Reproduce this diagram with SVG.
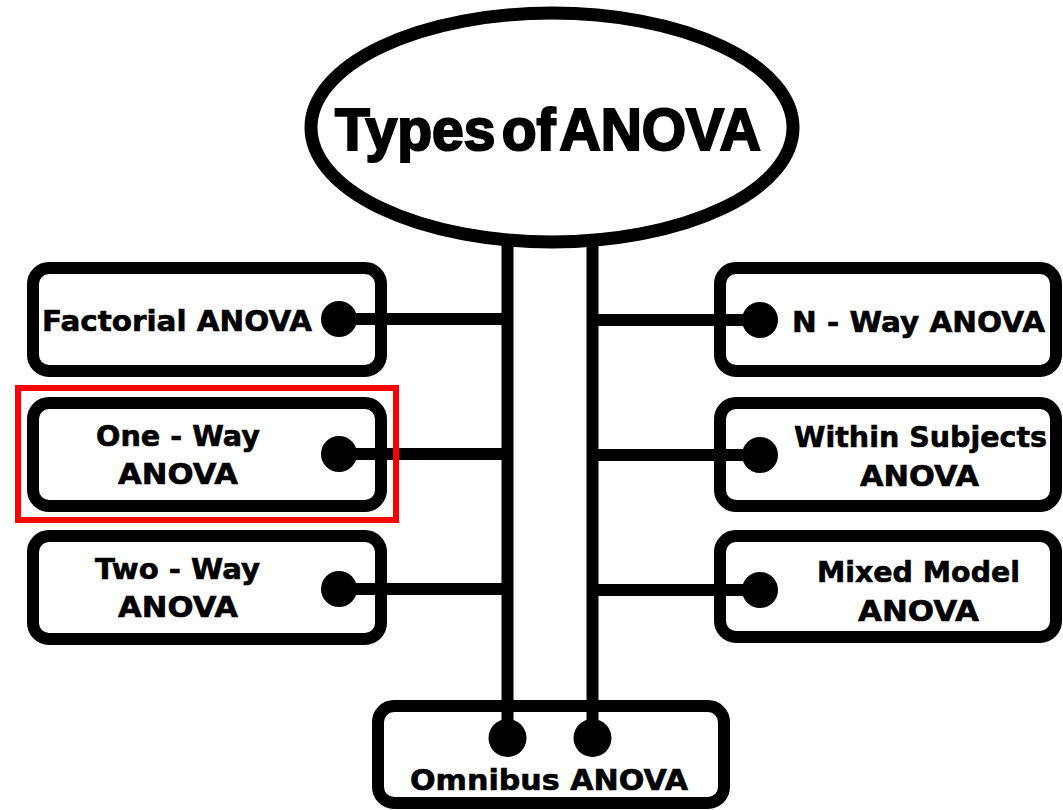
<svg xmlns="http://www.w3.org/2000/svg" width="1063" height="810" viewBox="0 0 1063 810">
  <style>
    .box { fill: #ffffff; stroke: #000000; stroke-width: 12; }
    .line { stroke: #000000; stroke-width: 12; fill: none; }
    .dot { fill: #000000; }
    .lbl { font-family: "DejaVu Sans", "Liberation Sans", sans-serif; font-weight: bold; font-size: 28px; fill: #000000; stroke: #000000; stroke-width: 0.6; }
    .title { font-family: "Liberation Sans", "DejaVu Sans", sans-serif; font-weight: bold; font-size: 60px; fill: #000000; stroke: #000000; stroke-width: 2.2; word-spacing: -10px; }
  </style>
  <rect width="1063" height="810" fill="#ffffff"/>

  <g id="connectors">
    <line class="line" x1="507.5" y1="240" x2="507.5" y2="738"/>
    <line class="line" x1="592.5" y1="240" x2="592.5" y2="738"/>
    <line class="line" x1="339" y1="319" x2="508" y2="319"/>
    <line class="line" x1="339" y1="454" x2="508" y2="454"/>
    <line class="line" x1="339" y1="589" x2="508" y2="589"/>
    <line class="line" x1="592" y1="320" x2="760" y2="320"/>
    <line class="line" x1="592" y1="455" x2="760" y2="455"/>
    <line class="line" x1="592" y1="590" x2="760" y2="590"/>
  </g>

  <g id="title">
    <ellipse cx="552" cy="127.5" rx="241" ry="114.5" fill="#ffffff" stroke="#000000" stroke-width="13"/>
    <text class="title" x="335" y="150" textLength="426" lengthAdjust="spacingAndGlyphs">Types of ANOVA</text>
  </g>

  <g id="factorial">
    <rect class="box" x="33" y="268" width="348" height="103" rx="16"/>
    <text class="lbl" x="42" y="331" textLength="270" lengthAdjust="spacingAndGlyphs">Factorial ANOVA</text>
  </g>
  <g id="one-way">
    <rect class="box" x="33" y="403" width="348" height="103" rx="16"/>
    <text class="lbl" x="96" y="446" textLength="164" lengthAdjust="spacingAndGlyphs">One - Way</text>
    <text class="lbl" x="118" y="484" textLength="120" lengthAdjust="spacingAndGlyphs">ANOVA</text>
  </g>
  <g id="two-way">
    <rect class="box" x="33" y="536" width="348" height="103" rx="16"/>
    <text class="lbl" x="95" y="579" textLength="165" lengthAdjust="spacingAndGlyphs">Two - Way</text>
    <text class="lbl" x="118" y="617" textLength="120" lengthAdjust="spacingAndGlyphs">ANOVA</text>
  </g>
  <g id="highlight">
    <rect x="18" y="388" width="378" height="132" fill="none" stroke="#ff0000" stroke-width="6"/>
  </g>

  <g id="n-way">
    <rect class="box" x="720" y="268" width="336" height="103" rx="16"/>
    <text class="lbl" x="792" y="332" textLength="253" lengthAdjust="spacingAndGlyphs">N - Way ANOVA</text>
  </g>
  <g id="within">
    <rect class="box" x="720" y="403" width="336" height="103" rx="16"/>
    <text class="lbl" x="794" y="447" textLength="253" lengthAdjust="spacingAndGlyphs">Within Subjects</text>
    <text class="lbl" x="860" y="486" textLength="119" lengthAdjust="spacingAndGlyphs">ANOVA</text>
  </g>
  <g id="mixed">
    <rect class="box" x="720" y="536" width="336" height="101" rx="16"/>
    <text class="lbl" x="817" y="582" textLength="203" lengthAdjust="spacingAndGlyphs">Mixed Model</text>
    <text class="lbl" x="858" y="621" textLength="121" lengthAdjust="spacingAndGlyphs">ANOVA</text>
  </g>

  <g id="omnibus">
    <rect class="box" x="378" y="706" width="346" height="97" rx="16"/>
    <text class="lbl" x="410" y="790" textLength="278" lengthAdjust="spacingAndGlyphs">Omnibus ANOVA</text>
  </g>

  <g id="connector-dots">
    <line class="line" x1="507.5" y1="700" x2="507.5" y2="738"/>
    <line class="line" x1="592.5" y1="700" x2="592.5" y2="738"/>
    <line class="line" x1="339" y1="319" x2="390" y2="319"/>
    <line class="line" x1="339" y1="454" x2="390" y2="454"/>
    <line class="line" x1="339" y1="589" x2="390" y2="589"/>
    <line class="line" x1="710" y1="320" x2="760" y2="320"/>
    <line class="line" x1="710" y1="455" x2="760" y2="455"/>
    <line class="line" x1="710" y1="590" x2="760" y2="590"/>
    <circle class="dot" cx="339" cy="319" r="18"/>
    <circle class="dot" cx="339" cy="454" r="18"/>
    <circle class="dot" cx="339" cy="589" r="18"/>
    <circle class="dot" cx="760" cy="320" r="18"/>
    <circle class="dot" cx="760" cy="455" r="18"/>
    <circle class="dot" cx="760" cy="590" r="18"/>
    <circle class="dot" cx="507.5" cy="738" r="19"/>
    <circle class="dot" cx="592.5" cy="738" r="19"/>
  </g>
</svg>
